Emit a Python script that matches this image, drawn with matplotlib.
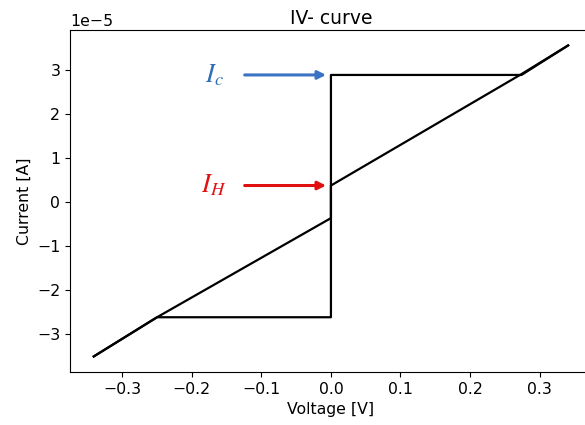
import matplotlib.pyplot as plt

# IV sweep (V in volts, I in amps)
ic = 2.88e-5      # critical current
ih = 0.37e-5      # retrapping current
i_ret = 2.62e-5   # current where the negative branch jumps

# sweep up: resistive branch -> retrap -> superconducting -> jump -> resistive
v_up = [-0.341, -0.250, 0.0, 0.0, 0.274, 0.341]
i_up = [-3.51e-5, -i_ret, -ih, ic, ic, 3.55e-5]

# sweep down: resistive branch -> retrap -> superconducting -> jump -> resistive
v_down = [0.341, 0.274, 0.0, 0.0, -0.250, -0.341]
i_down = [3.55e-5, 2.90e-5, ih, -i_ret, -i_ret, -3.51e-5]

plt.rcParams["mathtext.fontset"] = "stix"

fig = plt.figure(figsize=(5.85, 4.25), dpi=100)
ax = fig.add_axes([0.1197, 0.1247, 0.892, 0.805])

ax.plot(v_up, i_up, color="black", linewidth=1.6)
ax.plot(v_down, i_down, color="black", linewidth=1.6)

ax.set_title("IV- curve", fontsize=13.5, pad=4)
ax.set_xlabel("Voltage [V]", fontsize=11.3)
ax.set_ylabel("Current [A]", fontsize=11.3)
ax.tick_params(labelsize=11.3)
ax.yaxis.get_offset_text().set_fontsize(11.3)

# arrows pointing to Ic and IH
ax.annotate("", xy=(-0.003, ic), xytext=(-0.128, ic),
            arrowprops=dict(arrowstyle="-|>", color="#3a72c4", lw=2.2, mutation_scale=12))
ax.text(-0.168, ic, "$I_c$", color="#2f6db5", fontsize=19,
        ha="center", va="center")
ax.annotate("", xy=(-0.003, ih), xytext=(-0.128, ih),
            arrowprops=dict(arrowstyle="-|>", color="#e01010", lw=2.2, mutation_scale=12))
ax.text(-0.168, ih, "$I_H$", color="#e01010", fontsize=19,
        ha="center", va="center")

plt.savefig("out.png", dpi=100)
